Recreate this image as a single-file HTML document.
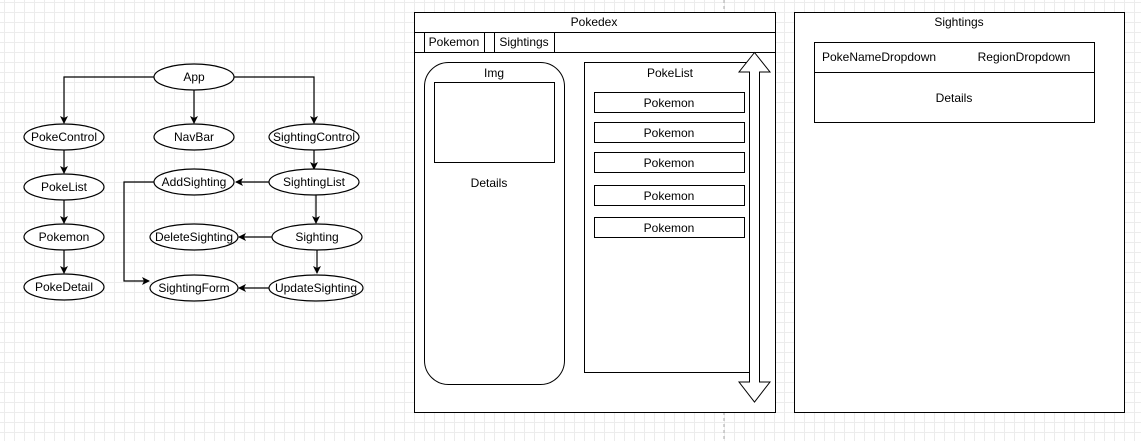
<!DOCTYPE html>
<html><head><style>
body{margin:0;width:1141px;height:441px;overflow:hidden;background:#fff;
background-image:linear-gradient(#ececec 1px,transparent 1px),linear-gradient(90deg,#ececec 1px,transparent 1px);
background-size:10px 10px;background-position:-6px -8px;}
svg{position:absolute;left:0;top:0}
text{font-family:"Liberation Sans",sans-serif;font-size:12px;text-anchor:middle;dominant-baseline:central;fill:#000}
</style></head><body>
<svg width="1141" height="441">
<defs><marker id="a" markerWidth="8" markerHeight="8" refX="7" refY="4" orient="auto" markerUnits="userSpaceOnUse"><path d="M0,0 L8,4 L0,8 L2,4z" fill="#000"/></marker></defs>
<line x1="724" y1="0" x2="724" y2="14" stroke="#aaa" stroke-dasharray="3,3"/>
<line x1="724" y1="412" x2="724" y2="441" stroke="#aaa" stroke-dasharray="3,3"/>
<g stroke="#000" fill="none" stroke-width="1.2">
<path d="M154,77 H64 V123" marker-end="url(#a)"/>
<path d="M234,77 H314 V123" marker-end="url(#a)"/>
<path d="M194,90 V123" marker-end="url(#a)"/>
<path d="M64,150 V173" marker-end="url(#a)"/>
<path d="M64,200 V223" marker-end="url(#a)"/>
<path d="M64,250 V273" marker-end="url(#a)"/>
<path d="M314,150 V169" marker-end="url(#a)"/>
<path d="M316,195 V223" marker-end="url(#a)"/>
<path d="M317,250 V273" marker-end="url(#a)"/>
<path d="M269,182 H236" marker-end="url(#a)"/>
<path d="M272,237 H239" marker-end="url(#a)"/>
<path d="M269,288 H239" marker-end="url(#a)"/>
<path d="M154,182 H124 V281 H149" marker-end="url(#a)"/>
</g>
<g stroke="#000" fill="#fff" stroke-width="1.2">
<ellipse cx="194" cy="77" rx="40" ry="13"/>
<ellipse cx="64" cy="137" rx="40" ry="13"/>
<ellipse cx="194" cy="137" rx="40" ry="13"/>
<ellipse cx="314" cy="137" rx="45" ry="13"/>
<ellipse cx="64" cy="187" rx="40" ry="13"/>
<ellipse cx="64" cy="237" rx="40" ry="13"/>
<ellipse cx="64" cy="287" rx="40" ry="13"/>
<ellipse cx="194" cy="182" rx="40" ry="13"/>
<ellipse cx="314" cy="182" rx="45" ry="13"/>
<ellipse cx="194" cy="237" rx="44" ry="13"/>
<ellipse cx="317" cy="237" rx="45" ry="13"/>
<ellipse cx="194" cy="288" rx="44" ry="13"/>
<ellipse cx="316" cy="288" rx="47" ry="13"/>
</g>
<text x="194" y="77">App</text>
<text x="64" y="137">PokeControl</text>
<text x="194" y="137">NavBar</text>
<text x="314" y="137">SightingControl</text>
<text x="64" y="187">PokeList</text>
<text x="64" y="237">Pokemon</text>
<text x="64" y="287">PokeDetail</text>
<text x="194" y="182">AddSighting</text>
<text x="314" y="182">SightingList</text>
<text x="194" y="237">DeleteSighting</text>
<text x="317" y="237">Sighting</text>
<text x="194" y="288">SightingForm</text>
<text x="316" y="288">UpdateSighting</text>

<g stroke="#000" fill="#fff" stroke-width="1">
<rect x="414.5" y="12.5" width="361" height="400"/>
<line x1="414" y1="32.5" x2="775" y2="32.5"/>
<line x1="414" y1="52.5" x2="775" y2="52.5"/>
<rect x="424.5" y="32.5" width="60" height="20"/>
<rect x="494.5" y="32.5" width="60" height="20"/>
<rect x="424.5" y="62.5" width="140" height="322" rx="24"/>
<rect x="434.5" y="82.5" width="120" height="80"/>
<rect x="584.5" y="62.5" width="169" height="310"/>
<rect x="594.5" y="92.5" width="150" height="20"/>
<rect x="594.5" y="122.5" width="150" height="20"/>
<rect x="594.5" y="152.5" width="150" height="20"/>
<rect x="594.5" y="185.5" width="150" height="20"/>
<rect x="594.5" y="217.5" width="150" height="20"/>
<path d="M754.5,52.5 L770,72 H759.5 V382 H770 L754.5,402 L739,382 H749.5 V72 H739 Z"/>
<rect x="794.5" y="12.5" width="330" height="400"/>
<rect x="814.5" y="42.5" width="280" height="80"/>
<line x1="814" y1="72.5" x2="1095" y2="72.5"/>
</g>
<text x="594" y="22">Pokedex</text>
<text x="454" y="42">Pokemon</text>
<text x="524" y="42">Sightings</text>
<text x="494" y="73">Img</text>
<text x="489" y="183">Details</text>
<text x="670" y="73">PokeList</text>
<text x="669" y="103">Pokemon</text>
<text x="669" y="133">Pokemon</text>
<text x="669" y="163">Pokemon</text>
<text x="669" y="196">Pokemon</text>
<text x="669" y="228">Pokemon</text>
<text x="959" y="22">Sightings</text>
<text x="879" y="57">PokeNameDropdown</text>
<text x="1024" y="57">RegionDropdown</text>
<text x="954" y="98">Details</text>
</svg>
</body></html>
